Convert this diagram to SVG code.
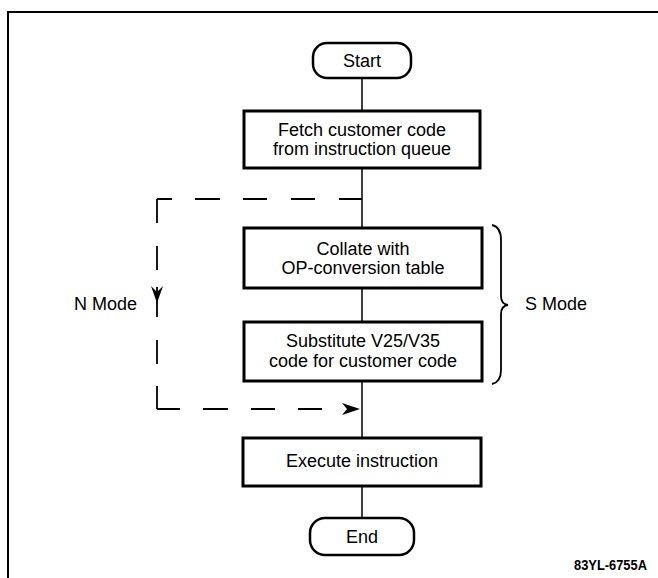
<svg xmlns="http://www.w3.org/2000/svg" width="658" height="578" viewBox="0 0 658 578">
<style>
  .box { fill: #fff; stroke: #000; stroke-width: 3; }
  .pill { fill: #fff; stroke: #000; stroke-width: 2.5; }
  .t { font-family: "Liberation Sans", Arial, Helvetica, sans-serif; font-size: 18px; fill: #000; text-anchor: middle; }
  .lbl { font-family: "Liberation Sans", Arial, Helvetica, sans-serif; font-size: 18px; fill: #000; }
  .ln { fill: none; stroke: #000; stroke-width: 1.5; }
  .dash { fill: none; stroke: #000; stroke-width: 1.8; }
  .ah { fill: #000; stroke: none; }
</style>
<rect x="0" y="0" width="658" height="578" fill="#fff"/>
<path d="M8 578 V12 H658" fill="none" stroke="#000" stroke-width="2"/>

<g id="connectors">
  <path class="ln" d="M362 78 V111 M362 168 V228 M362 288 V322 M362 381 V438 M362 486 V518"/>
  <path class="dash" d="M157 199 H172 M195 199 H220 M243 199 H267 M291 199 H315 M339 199 H362"/>
  <path class="dash" d="M157 199 V223 M157 246 V270 M157 287 V317 M157 340 V364 M157 386 V409"/>
  <path class="dash" d="M157 409 H180 M203 409 H228 M251 409 H275 M298 409 H322"/>
  <path class="ah" d="M157 303 L151 286 L157 292 L163 286 Z"/>
  <path class="ah" d="M360 409 L342 403 L347 409 L342 415 Z"/>
  <path d="M492 225 Q501 227 501 240 V296 Q501 304 508 305 Q501 306 501 314 V370 Q501 382 492 384" fill="none" stroke="#000" stroke-width="1.8"/>
</g>

<g id="start">
  <rect class="pill" x="313" y="43" width="98" height="35" rx="14"/>
  <text class="t" x="362" y="67">Start</text>
</g>
<g id="fetch">
  <rect class="box" x="244" y="111" width="236" height="57"/>
  <text class="t" x="362" y="136">Fetch customer code</text>
  <text class="t" x="362" y="155">from instruction queue</text>
</g>
<g id="collate">
  <rect class="box" x="244" y="228" width="238" height="60"/>
  <text class="t" x="363" y="255">Collate with</text>
  <text class="t" x="363" y="274">OP-conversion table</text>
</g>
<g id="substitute">
  <rect class="box" x="244" y="322" width="238" height="59"/>
  <text class="t" x="363" y="347">Substitute V25/V35</text>
  <text class="t" x="363" y="367">code for customer code</text>
</g>
<g id="execute">
  <rect class="box" x="243" y="438" width="238" height="48"/>
  <text class="t" x="362" y="467">Execute instruction</text>
</g>
<g id="end">
  <rect class="pill" x="310" y="518" width="104" height="37" rx="15"/>
  <text class="t" x="362" y="543">End</text>
</g>
<g id="nmode">
  <text class="lbl" x="74" y="310">N Mode</text>
</g>
<g id="smode">
  <text class="lbl" x="525" y="310">S Mode</text>
</g>
<text x="574" y="570" font-family="Liberation Sans, Arial, sans-serif" font-weight="bold" font-size="15" textLength="73" lengthAdjust="spacingAndGlyphs" fill="#000">83YL-6755A</text>
</svg>
